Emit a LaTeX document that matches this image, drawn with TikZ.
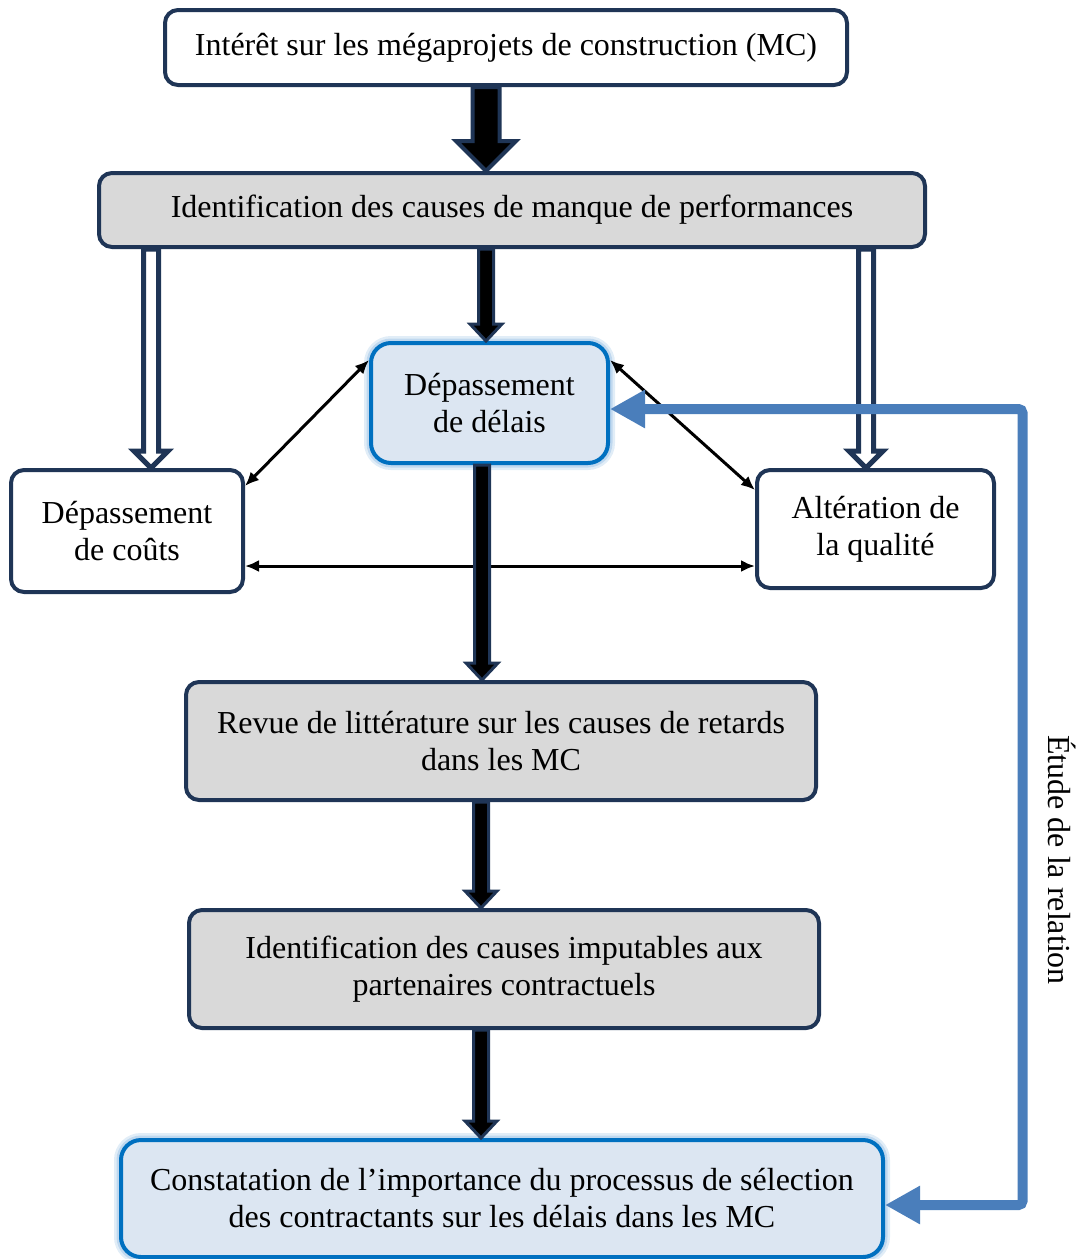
\documentclass[tikz,border=0pt]{standalone}
\usepackage{fontspec}
\setmainfont{Liberation Serif}
\usetikzlibrary{arrows.meta, calc, positioning}

\definecolor{navy}{HTML}{1F3556}
\definecolor{boxgray}{HTML}{D9D9D9}
\definecolor{paleblue}{HTML}{DCE6F2}
\definecolor{edgeblue}{HTML}{0070C0}
\definecolor{glowblue}{HTML}{9DC3E6}
\definecolor{linkblue}{HTML}{4A7EBB}

% vertical block arrow: style, half shaft, half head, head length, from, to
\newcommand{\blockarrow}[6]{%
  \path[#1] let \p1=(#5), \p2=(#6) in
    (\x1,\y2) -- (\x1-#3,\y2+#4) -- (\x1-#2,\y2+#4) -- (\x1-#2,\y1)
    -- (\x1+#2,\y1) -- (\x1+#2,\y2+#4) -- (\x1+#3,\y2+#4) -- cycle;}

\begin{document}
\begin{tikzpicture}[x=1pt, y=-1pt,
    every node/.style={font=\fontsize{32}{37}\selectfont, align=center},
    stage/.style={draw=navy, line width=4pt, rounded corners=13pt, inner sep=0pt},
    plainstage/.style={stage, fill=white},
    graystage/.style={stage, fill=boxgray},
    keystage/.style={stage, draw=edgeblue, fill=paleblue, rounded corners=20pt,
        preaction={draw=glowblue, line width=14pt, opacity=0.3},
        preaction={draw=glowblue, line width=9pt, opacity=0.5}},
    bigarrow/.style={draw=navy, fill=black, line join=miter},
    hollowarrow/.style={draw=navy, fill=white, line width=5pt, line join=miter},
    link/.style={line width=3pt, {Latex[length=14pt,width=12pt]}-{Latex[length=14pt,width=12pt]}},
    relation/.style={draw=linkblue, line width=10pt, rounded corners=4pt,
        {Triangle[length=35pt,width=36pt]}-{Triangle[length=35pt,width=36pt]}}]
    \useasboundingbox (0,0) rectangle (1083,1259);

    % Nodes
    \node[plainstage, minimum width=682, minimum height=75] (interest) at (506,47.5)
        {Intérêt sur les mégaprojets de construction (MC)};
    \node[graystage, minimum width=826, minimum height=74] (ident) at (512,210)
        {Identification des causes de manque de performances};
    \node[keystage, minimum width=237, minimum height=120] (delay) at (489.5,403)
        {Dépassement\\de délais};
    \node[plainstage, minimum width=232, minimum height=122] (cost) at (127,531)
        {Dépassement\\de coûts};
    \node[plainstage, minimum width=237, minimum height=118] (quality) at (875.5,529)
        {Altération de\\la qualité};
    \node[graystage, minimum width=630, minimum height=118] (review) at (501,741)
        {Revue de littérature sur les causes de retards\\dans les MC};
    \node[graystage, minimum width=630, minimum height=118] (partners) at (504,969)
        {Identification des causes imputables aux\\partenaires contractuels};
    \node[keystage, minimum width=762, minimum height=117] (finding) at (502,1198.5)
        {Constatation de l’importance du processus de sélection\\des contractants sur les délais dans les MC};
    \node[rotate=-90] (study) at (1062,860) {Étude de la relation};
    \coordinate (loop) at (1022.5,0);

    % Connections
    \blockarrow{bigarrow, line width=4pt}{13.5pt}{30pt}{30pt}{[xshift=-20pt]interest.south}{ident.north}
    \blockarrow{bigarrow, line width=3pt}{7.5pt}{16pt}{17pt}{[xshift=-26pt]ident.south}{delay.north}
    \blockarrow{hollowarrow}{7.5pt}{17pt}{17pt}{[xshift=24pt]ident.south -| cost.north}{cost.north}
    \blockarrow{hollowarrow}{7.5pt}{17pt}{17pt}{[xshift=-9.5pt]ident.south -| quality.north}{quality.north}

    \draw[link] ([yshift=-19pt]delay.north west) -- ([yshift=-18pt]cost.north east);
    \draw[link] ([yshift=-19pt]delay.north east) -- ([yshift=-22pt]quality.north west);
    \draw[link] ([yshift=-35pt]cost.east) -- ([yshift=-35pt]cost.east -| quality.west);

    \blockarrow{bigarrow, line width=3pt}{7.5pt}{16pt}{17pt}{[xshift=-7.5pt]delay.south}{review.north}
    \blockarrow{bigarrow, line width=3pt}{7.5pt}{16pt}{17pt}{[xshift=-20pt]review.south}{partners.north}
    \blockarrow{bigarrow, line width=3pt}{7.5pt}{16pt}{17pt}{[xshift=-23pt]partners.south}{finding.north}

    \draw[relation] ([yshift=-6pt]delay.east) -| ([yshift=-6.5pt]finding.east -| loop)
        -- ([yshift=-6.5pt]finding.east);
\end{tikzpicture}
\end{document}
